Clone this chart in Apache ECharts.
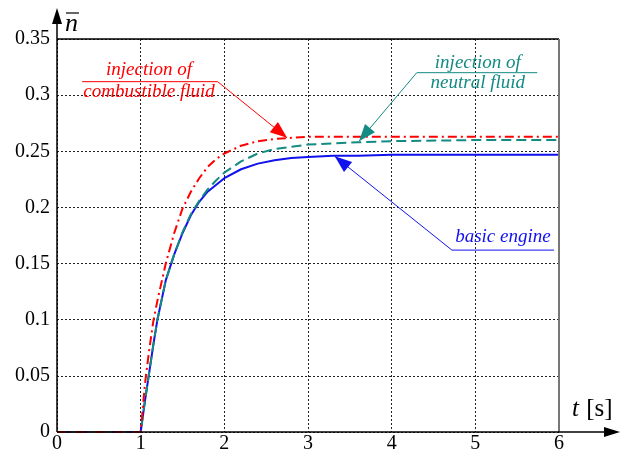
<!DOCTYPE html>
<html><head><meta charset="utf-8">
<script src="https://cdn.jsdelivr.net/npm/echarts@6/dist/echarts.min.js"></script>
<style>html,body{margin:0;padding:0;background:#fff}#c{width:626px;height:454px}</style>
</head><body><div id="c"></div>
<script>
var time = [0, 1, 1.05, 1.1, 1.15, 1.2, 1.3, 1.4, 1.5, 1.6, 1.7, 1.8, 1.9, 2.0, 2.2, 2.4, 2.6, 2.8, 3.0, 3.3, 3.6, 4, 5, 6];
var basicEngine = [0, 0, 0.027, 0.052, 0.077, 0.100, 0.135, 0.158, 0.177, 0.193, 0.205, 0.214, 0.220, 0.226, 0.234, 0.239, 0.242, 0.244, 0.245, 0.246, 0.246, 0.247, 0.247, 0.247];
var combustibleFluid = [0, 0, 0.042, 0.072, 0.098, 0.117, 0.150, 0.177, 0.199, 0.214, 0.226, 0.236, 0.243, 0.248, 0.255, 0.259, 0.261, 0.262, 0.263, 0.263, 0.263, 0.263, 0.263, 0.263];
var neutralFluid = [0, 0, 0.027, 0.052, 0.077, 0.100, 0.135, 0.158, 0.178, 0.194, 0.206, 0.216, 0.224, 0.231, 0.241, 0.248, 0.252, 0.254, 0.256, 0.257, 0.258, 0.259, 0.260, 0.260];
var xTicks = ['0', '1', '2', '3', '4', '5', '6'];
var yTicks = ['0', '0.05', '0.1', '0.15', '0.2', '0.25', '0.3', '0.35'];

// annotations: text lines, text anchor, underline [start,end], arrow tip (data coords)
var annotations = [
  {lines: ['injection of', 'combustible fluid'], color: '#ff0000', textAt: [1.10, 0.3225, 0.303], under: [[0.30, 0.312], [1.92, 0.312]], tip: [2.75, 0.262]},
  {lines: ['injection of', 'neutral fluid'], color: '#138a82', textAt: [5.03, 0.3287, 0.311], under: [[5.74, 0.320], [4.30, 0.320]], tip: [3.61, 0.259]},
  {lines: ['basic engine'], color: '#1111ee', textAt: [5.33, 0.1737], under: [[5.94, 0.162], [4.72, 0.162]], tip: [3.32, 0.2455]}
];

var font = "'Liberation Serif', serif";
function pairs(ys){ return time.map(function(t,i){ return [t, ys[i]]; }); }

var chart = echarts.init(document.getElementById('c'), null, {renderer: 'canvas'});
chart.setOption({
  animation: false,
  grid: {left: 57, top: 39, right: 67, bottom: 20, show: false},
  xAxis: {
    type: 'value', min: 0, max: 6, interval: 1,
    axisLine: {show: false},
    axisTick: {show: false},
    axisLabel: {color: '#000', fontFamily: font, fontSize: 20, margin: 2, formatter: function(v){ return xTicks[Math.round(v)]; }},
    splitLine: {show: true, lineStyle: {color: '#222', type: [2, 2], width: 1}}
  },
  yAxis: {
    type: 'value', min: 0, max: 0.35, interval: 0.05,
    axisLine: {show: false},
    axisTick: {show: false},
    axisLabel: {color: '#000', fontFamily: font, fontSize: 20, margin: 7, formatter: function(v){ return yTicks[Math.round(v / 0.05)]; }},
    splitLine: {show: true, lineStyle: {color: '#222', type: [2, 2], width: 1}}
  },
  series: [
    {name: 'basic engine', type: 'line', data: pairs(basicEngine), showSymbol: false, lineStyle: {color: '#1111ee', width: 2}, z: 3},
    {name: 'injection of neutral fluid', type: 'line', data: pairs(neutralFluid), showSymbol: false, lineStyle: {color: '#138a82', width: 2, type: [10, 5]}, z: 4},
    {name: 'injection of combustible fluid', type: 'line', data: pairs(combustibleFluid), showSymbol: false, lineStyle: {color: '#ff0000', width: 2, type: [9, 4, 2, 4]}, z: 5}
  ]
});

function px(p){ return chart.convertToPixel({gridIndex: 0}, p); }
function arrowHead(tip, from, len, half, color){
  var dx = tip[0] - from[0], dy = tip[1] - from[1];
  var d = Math.sqrt(dx*dx + dy*dy); dx /= d; dy /= d;
  var bx = tip[0] - dx*len, by = tip[1] - dy*len;
  return {type: 'polygon', z: 100, shape: {points: [tip, [bx - dy*half, by + dx*half], [bx + dy*half, by - dx*half]]}, style: {fill: color}};
}

var g = [];
var o = px([0, 0]), tr = px([6, 0.35]);
// box top and right
g.push({type: 'line', z: 50, shape: {x1: o[0], y1: tr[1], x2: tr[0], y2: tr[1]}, style: {stroke: '#000', lineWidth: 1.5}});
g.push({type: 'line', z: 50, shape: {x1: tr[0], y1: tr[1], x2: tr[0], y2: o[1]}, style: {stroke: '#777', lineWidth: 2}});
// axes with arrows
g.push({type: 'line', z: 50, shape: {x1: o[0], y1: o[1], x2: 610, y2: o[1]}, style: {stroke: '#000', lineWidth: 1.5}});
g.push({type: 'polygon', z: 50, shape: {points: [[620, o[1]], [604, o[1] - 5], [604, o[1] + 5]]}, style: {fill: '#000'}});
g.push({type: 'line', z: 50, shape: {x1: o[0], y1: o[1], x2: o[0], y2: 20}, style: {stroke: '#000', lineWidth: 1.5}});
g.push({type: 'polygon', z: 50, shape: {points: [[o[0], 8], [o[0] - 5, 24], [o[0] + 5, 24]]}, style: {fill: '#000'}});
// axis names
g.push({type: 'text', z: 50, x: 65, y: 11, style: {text: 'n', fontFamily: font, fontStyle: 'italic', fontSize: 26, fill: '#000'}});
g.push({type: 'line', z: 50, shape: {x1: 66, y1: 13, x2: 79, y2: 13}, style: {stroke: '#000', lineWidth: 1.2}});
g.push({type: 'text', z: 50, x: 572, y: 397, style: {
  text: '{i|t} {r|[s]}', rich: {i: {fontFamily: font, fontStyle: 'italic', fontSize: 25, fill: '#000', padding: [0, 4, 0, 0]}, r: {fontFamily: font, fontSize: 25, fill: '#000'}}}});

annotations.forEach(function(a){
  var c = a.color;
  var u0 = px(a.under[0]), u1 = px(a.under[1]), tip = px(a.tip);
  g.push({type: 'line', z: 100, shape: {x1: u0[0], y1: u0[1], x2: u1[0], y2: u1[1]}, style: {stroke: c, lineWidth: 1}});
  g.push({type: 'line', z: 100, shape: {x1: u1[0], y1: u1[1], x2: tip[0], y2: tip[1]}, style: {stroke: c, lineWidth: 1}});
  g.push(arrowHead(tip, u1, 17, 6.5, c));
  a.lines.forEach(function(txt, i){
    var p = px([a.textAt[0], a.textAt[1 + i]]);
    g.push({type: 'text', z: 100, x: p[0], y: p[1], style: {text: txt, fontFamily: font, fontStyle: 'italic', fontSize: 19, fill: c, align: 'center', verticalAlign: 'middle'}});
  });
});
chart.setOption({graphic: g});
</script>
</body></html>
